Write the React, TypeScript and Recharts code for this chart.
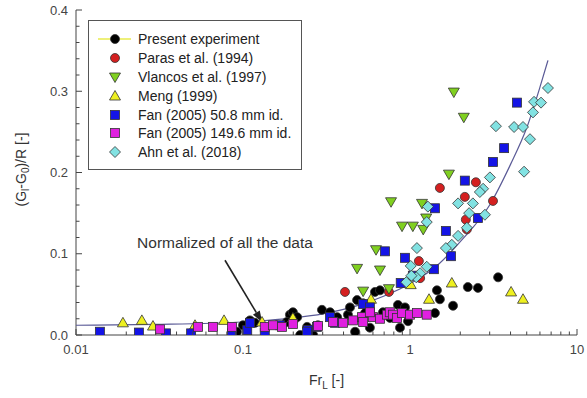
import React from "react";
import { ScatterChart, Scatter, XAxis, YAxis, Legend, ReferenceLine, Label } from "recharts";

const FONT = '"Liberation Sans", Arial, Helvetica, sans-serif';

// axis ticks
const xMajor = [0.01, 0.1, 1, 10];
const xTicks = [
  0.01, 0.02, 0.03, 0.04, 0.05, 0.06, 0.07, 0.08, 0.09,
  0.1, 0.2, 0.3, 0.4, 0.5, 0.6, 0.7, 0.8, 0.9,
  1, 2, 3, 4, 5, 6, 7, 8, 9, 10,
];
const yTicks = [
  0, 0.02, 0.04, 0.06, 0.08, 0.1, 0.12, 0.14, 0.16, 0.18, 0.2,
  0.22, 0.24, 0.26, 0.28, 0.3, 0.32, 0.34, 0.36, 0.38, 0.4,
];

// [Fr_L, (Gl-G0)/R]
const present: [number, number][] = [
  [0.087, 0.0025], [0.092, 0.004], [0.1, 0.012], [0.11, 0.018], [0.118, 0.015],
  [0.191, 0.025], [0.199, 0.028], [0.211, 0.022], [0.22, 0.0], [0.183, 0.016],
  [0.242, 0.01], [0.245, 0.0025], [0.263, 0.0], [0.281, 0.012], [0.297, 0.031],
  [0.332, 0.028], [0.366, 0.022], [0.425, 0.025], [0.437, 0.034], [0.469, 0.004],
  [0.482, 0.043], [0.524, 0.039], [0.538, 0.027], [0.575, 0.009], [0.617, 0.053],
  [0.661, 0.055], [0.689, 0.028], [0.759, 0.021], [0.847, 0.037], [0.871, 0.009],
  [0.933, 0.034], [0.973, 0.017], [1.41, 0.027], [1.45, 0.055], [1.51, 0.044],
  [1.81, 0.036], [2.22, 0.059], [2.55, 0.058], [3.37, 0.071],
];
const paras: [number, number][] = [
  [1.51, 0.181], [2.48, 0.188], [2.13, 0.17], [3.14, 0.165], [2.16, 0.142],
  [2.19, 0.13], [1.13, 0.091], [1.15, 0.07], [0.408, 0.053], [0.748, 0.053],
];
const vlancos: [number, number][] = [
  [1.83, 0.299], [2.1, 0.268], [1.71, 0.198], [0.77, 0.164], [1.18, 0.162],
  [1.25, 0.144], [0.896, 0.134], [1.04, 0.134], [1.2, 0.13], [0.626, 0.105],
  [0.482, 0.082], [0.661, 0.08], [0.524, 0.054], [0.748, 0.057],
];
const meng: [number, number][] = [
  [0.0191, 0.015], [0.0248, 0.018], [0.0289, 0.011], [0.0516, 0.012], [0.077, 0.018],
  [0.13, 0.016], [0.199, 0.021], [1.78, 0.064], [1.3, 0.044], [1.01, 0.062],
  [0.584, 0.044], [4.03, 0.053], [4.75, 0.044],
];
const fan508: [number, number][] = [
  [4.37, 0.286], [3.66, 0.23], [3.14, 0.213], [2.13, 0.19], [2.55, 0.144],
  [1.41, 0.156], [1.64, 0.128], [0.708, 0.103], [0.933, 0.095], [1.76, 0.097],
  [1.39, 0.081], [1.04, 0.073], [0.88, 0.064], [0.524, 0.038], [0.575, 0.034],
  [0.332, 0.022], [0.245, 0.006], [0.167, 0.012], [0.106, 0.006], [0.11, 0.015],
  [0.135, 0.0025], [0.086, 0.002], [0.0489, 0.002], [0.0346, 0.002], [0.0238, 0.003],
  [0.0139, 0.004], [0.242, 0.004], [0.277, 0.01], [0.356, 0.015],
];
const fan1496: [number, number][] = [
  [0.0318, 0.007], [0.0538, 0.01], [0.0661, 0.01], [0.086, 0.01], [0.135, 0.01],
  [0.151, 0.012], [0.171, 0.01], [0.199, 0.0135], [0.281, 0.011], [0.346, 0.016],
  [0.397, 0.015], [0.456, 0.018], [0.516, 0.022], [0.524, 0.016], [0.6, 0.022],
  [0.661, 0.02], [0.575, 0.028], [0.728, 0.025], [0.757, 0.028], [0.791, 0.025],
  [0.836, 0.021], [0.896, 0.027], [1.0, 0.025], [1.1, 0.027], [1.26, 0.025],
];
const ahn: [number, number][] = [
  [6.7, 0.304], [5.53, 0.287], [6.09, 0.286], [5.45, 0.274], [3.27, 0.257],
  [4.2, 0.256], [4.75, 0.256], [5.23, 0.241], [4.82, 0.201], [3.01, 0.194],
  [2.74, 0.18], [2.62, 0.176], [2.38, 0.162], [1.94, 0.162], [2.26, 0.15],
  [2.81, 0.148], [2.19, 0.132], [1.94, 0.122], [1.78, 0.111], [1.64, 0.107],
  [1.28, 0.158], [1.26, 0.139], [1.1, 0.107], [1.01, 0.085], [1.26, 0.084],
  [1.15, 0.076], [1.09, 0.071], [0.95, 0.065], [1.02, 0.073],
];
// normalized curve
const fit: [number, number][] = [
  [0.01, 0.012], [0.03, 0.013], [0.1, 0.016], [0.2, 0.021], [0.3, 0.026],
  [0.5, 0.037], [0.7, 0.048], [1, 0.063], [1.5, 0.088], [2, 0.115],
  [3, 0.16], [4, 0.21], [5, 0.255], [6, 0.305], [6.7, 0.338],
];

const toPts = (a: [number, number][]) => a.map(([x, y]) => ({ x, y }));

const series = [
  { name: "Present experiment", kind: "circle", fill: "#000000", data: present },
  { name: "Paras et al. (1994)", kind: "circle", fill: "#d42020", data: paras },
  { name: "Vlancos et al. (1997)", kind: "down", fill: "#80d020", data: vlancos },
  { name: "Meng (1999)", kind: "up", fill: "#eef020", data: meng },
  { name: "Fan (2005) 50.8 mm id.", kind: "square", fill: "#1414e6", data: fan508 },
  { name: "Fan (2005) 149.6 mm id.", kind: "square", fill: "#e020e0", data: fan1496 },
  { name: "Ahn et al. (2018)", kind: "diamond", fill: "#82e2e2", data: ahn },
];

const Marker = ({ kind, fill, cx, cy }: any) => {
  const st = { fill, stroke: "#333", strokeWidth: 0.8 };
  if (cx == null || cy == null) return null;
  switch (kind) {
    case "square":
      return <rect x={cx - 4.5} y={cy - 4.5} width={9} height={9} {...st} />;
    case "down":
      return <polygon points={`${cx - 5.5},${cy - 4} ${cx + 5.5},${cy - 4} ${cx},${cy + 5.5}`} {...st} />;
    case "up":
      return <polygon points={`${cx - 5.5},${cy + 4} ${cx + 5.5},${cy + 4} ${cx},${cy - 5.5}`} {...st} />;
    case "diamond":
      return <polygon points={`${cx},${cy - 5.5} ${cx + 5.5},${cy} ${cx},${cy + 5.5} ${cx - 5.5},${cy}`} {...st} />;
    default:
      return <circle cx={cx} cy={cy} r={4.5} {...st} />;
  }
};

const isMajorY = (v: number) => Math.abs(v * 10 - Math.round(v * 10)) < 1e-6;

const BottomTick = ({ x, y, payload }: any) => {
  const major = xMajor.includes(payload.value);
  return (
    <g>
      <line x1={x} y1={y} x2={x} y2={y - (major ? 6 : 3.5)} stroke="#444" />
      {major && (
        <text x={x} y={y + 10} dy="0.71em" textAnchor="middle" fill="#444" fontSize={13} fontFamily={FONT}>
          {payload.value}
        </text>
      )}
    </g>
  );
};
const TopTick = ({ x, y, payload }: any) => {
  const major = xMajor.includes(payload.value);
  return <line x1={x} y1={y} x2={x} y2={y + (major ? 6 : 3.5)} stroke="#444" />;
};
const LeftTick = ({ x, y, payload }: any) => {
  const major = isMajorY(payload.value);
  return (
    <g>
      <line x1={x} y1={y} x2={x + (major ? 6 : 3.5)} y2={y} stroke="#444" />
      {major && (
        <text x={x - 8} y={y} dy="0.35em" textAnchor="end" fill="#444" fontSize={13} fontFamily={FONT}>
          {payload.value.toFixed(1)}
        </text>
      )}
    </g>
  );
};
const RightTick = ({ x, y, payload }: any) => {
  const major = isMajorY(payload.value);
  return <line x1={x} y1={y} x2={x - (major ? 6 : 3.5)} y2={y} stroke="#444" />;
};

const YTitle = ({ viewBox }: any) => {
  const vb = viewBox || { x: 0, y: 10, width: 76, height: 325 };
  const cx = vb.x + 21;
  const cy = vb.y + vb.height / 2 - 3;
  return (
    <text x={cx} y={cy} transform={`rotate(-90 ${cx} ${cy})`} textAnchor="middle" dominantBaseline="central"
      fill="#333" fontSize={14} fontFamily={FONT}>
      (G<tspan fontSize={10} dy={4}>l</tspan>
      <tspan dy={-4}>-G</tspan>
      <tspan fontSize={10} dy={4}>0</tspan>
      <tspan dy={-4}>)/R [-]</tspan>
    </text>
  );
};
const XTitle = ({ viewBox }: any) => {
  const vb = viewBox || { x: 76, y: 335, width: 501, height: 63 };
  const cx = vb.x + vb.width / 2;
  return (
    <text x={cx} y={vb.y + 50} textAnchor="middle" fill="#333" fontSize={14} fontFamily={FONT}>
      Fr<tspan fontSize={10} dy={4}>L</tspan>
      <tspan dy={-4}> [-]</tspan>
    </text>
  );
};

const Arrow = (p: any) => {
  const { x1, y1, x2, y2 } = p;
  const a = Math.atan2(y2 - y1, x2 - x1);
  const L = 11, W = 4;
  const bx = x2 - L * Math.cos(a), by = y2 - L * Math.sin(a);
  const nx = -Math.sin(a) * W, ny = Math.cos(a) * W;
  return (
    <g>
      <text x={x1} y={y1 - 12} textAnchor="middle" fill="#333" fontSize={15.5} fontFamily={FONT}>
        Normalized of all the data
      </text>
      <line x1={x1} y1={y1} x2={bx} y2={by} stroke="#222" strokeWidth={1.6} />
      <polygon points={`${x2},${y2} ${bx + nx},${by + ny} ${bx - nx},${by - ny}`} fill="#222" />
    </g>
  );
};

const LegendBox = () => (
  <div style={{ width: 214, height: 150, boxSizing: "border-box", border: "1px solid #555", background: "#fff",
    paddingTop: 9, fontFamily: FONT, fontSize: 14, color: "#222" }}>
    {series.map((s, i) => (
      <div key={s.name} style={{ height: 18.8, display: "flex", alignItems: "center" }}>
        <svg width={44} height={14} style={{ marginLeft: 5, flexShrink: 0 }}>
          {i === 0 && <line x1={4} y1={7} x2={37} y2={7} stroke="#eef07a" strokeWidth={2} />}
          <Marker kind={s.kind} fill={s.fill} cx={21} cy={7} />
        </svg>
        <span style={{ whiteSpace: "nowrap" }}>{s.name}</span>
      </div>
    ))}
  </div>
);

export default function App() {
  return (
    <div style={{ position: "absolute", left: 0, top: 0, width: 587, height: 398, background: "#fff" }}>
      <ScatterChart width={587} height={398} margin={{ top: 10, right: 10, bottom: 0, left: 0 }}>
        <XAxis dataKey="x" type="number" scale="log" domain={[0.01, 10]} allowDataOverflow ticks={xTicks}
          interval={0} tickSize={0} tickMargin={0} tickLine={false} tick={(p: any) => <BottomTick {...p} />}
          height={63} axisLine={{ stroke: "#444" }}>
          <Label content={(p: any) => <XTitle {...p} />} />
        </XAxis>
        <XAxis xAxisId="top" orientation="top" dataKey="x" type="number" scale="log" domain={[0.01, 10]}
          allowDataOverflow ticks={xTicks} interval={0} tickSize={0} tickMargin={0} tickLine={false}
          tick={(p: any) => <TopTick {...p} />} height={0} axisLine={{ stroke: "#444" }} />
        <YAxis dataKey="y" type="number" domain={[0, 0.4]} allowDataOverflow ticks={yTicks} interval={0}
          tickSize={0} tickMargin={0} tickLine={false} tick={(p: any) => <LeftTick {...p} />} width={76}
          axisLine={{ stroke: "#444" }}>
          <Label content={(p: any) => <YTitle {...p} />} />
        </YAxis>
        <YAxis yAxisId="right" orientation="right" dataKey="y" type="number" domain={[0, 0.4]} allowDataOverflow
          ticks={yTicks} interval={0} tickSize={0} tickMargin={0} tickLine={false}
          tick={(p: any) => <RightTick {...p} />} width={0} axisLine={{ stroke: "#444" }} />
        <Legend layout="vertical" align="center" verticalAlign="middle"
          wrapperStyle={{ left: 88, top: 20, width: 214, height: 150 }} content={() => <LegendBox />} />
        <Scatter name="fit" data={toPts(fit)} line={{ stroke: "#5a5a96", strokeWidth: 1.2 }} lineJointType="monotoneX"
          shape={() => <g />} legendType="none" isAnimationActive={false} />
        {series.map((s) => (
          <Scatter key={s.name} name={s.name} data={toPts(s.data)} isAnimationActive={false}
            shape={(p: any) => <Marker kind={s.kind} fill={s.fill} cx={p.cx} cy={p.cy} />} />
        ))}
        <ReferenceLine segment={[{ x: 0.078, y: 0.092 }, { x: 0.13, y: 0.016 }]} shape={(p: any) => <Arrow {...p} />} />
      </ScatterChart>
    </div>
  );
}
